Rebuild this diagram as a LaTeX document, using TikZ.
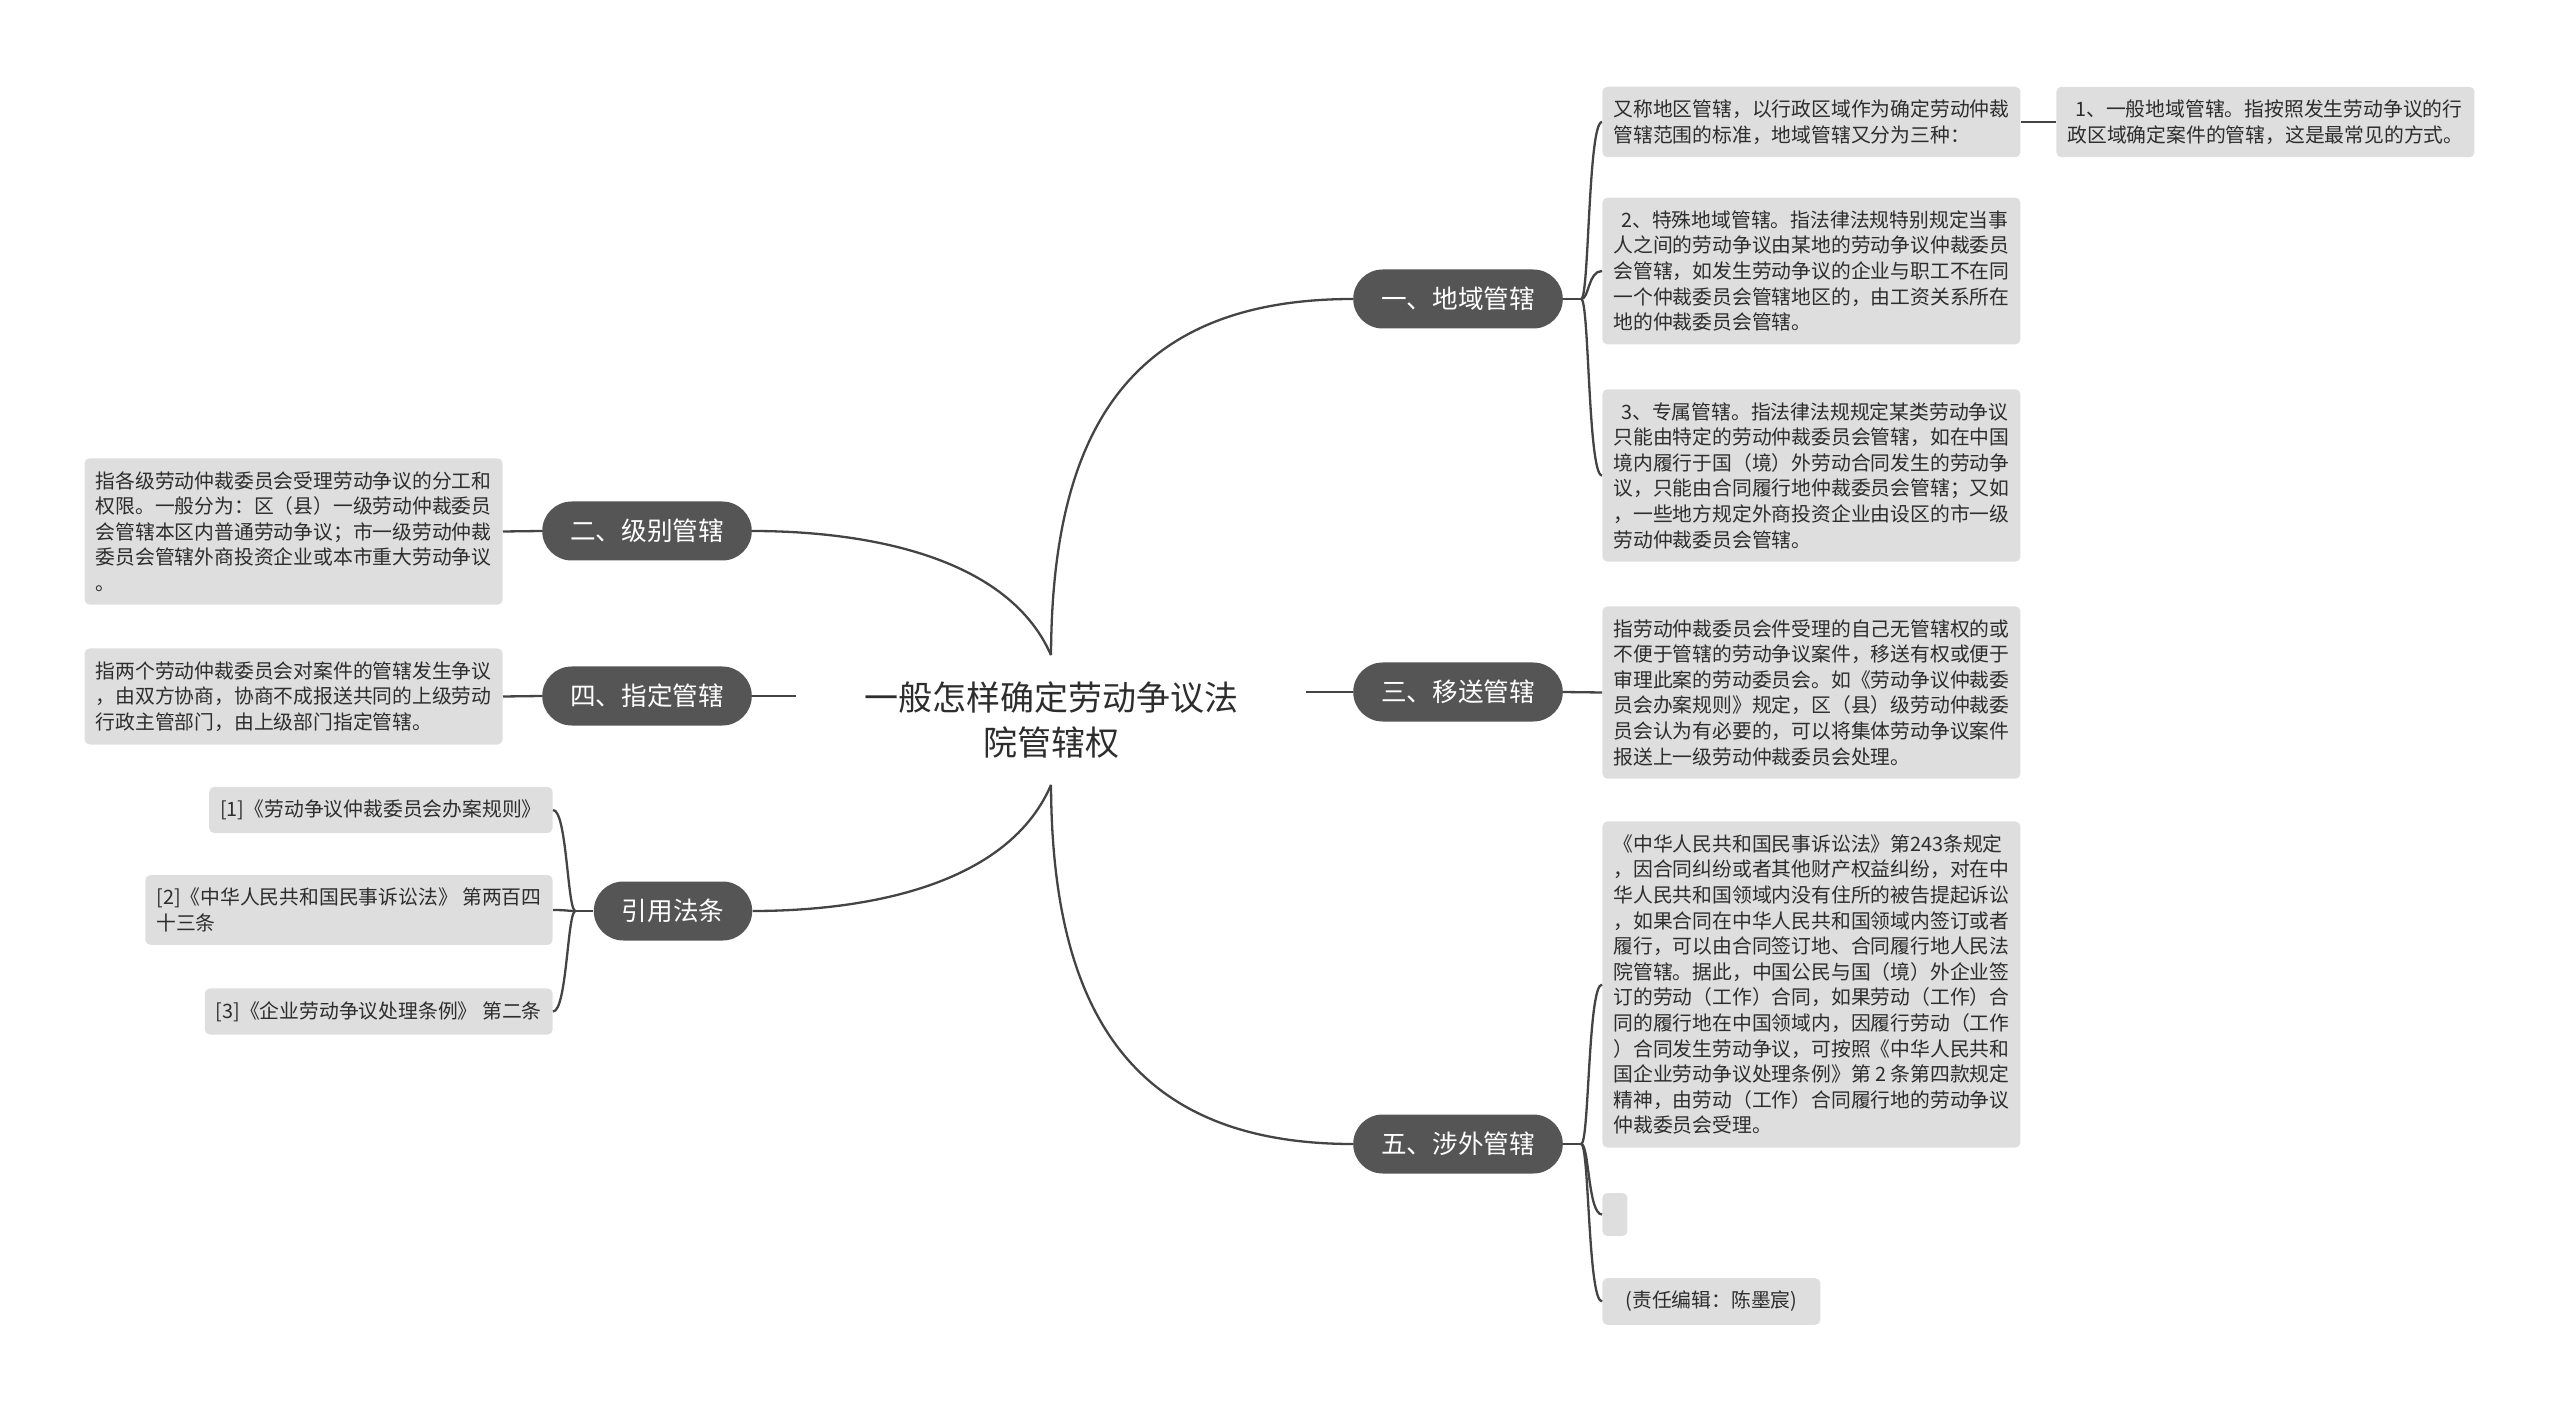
\documentclass[tikz,border=0pt]{standalone}
\usepackage{fontspec}
\setmainfont{Noto Sans CJK SC}
\usepackage{tikz}
\usetikzlibrary{positioning}
\definecolor{mapdark}{RGB}{85, 85, 85}
\definecolor{mapleaf}{RGB}{222, 222, 222}
\definecolor{mapline}{RGB}{68, 68, 68}
\definecolor{maptext}{RGB}{45, 45, 45}

\begin{document}
\begin{tikzpicture}[x=0.5pt,y=-0.5pt,
    topic/.style={fill=mapdark, text=white, font=\fontsize{12.8pt}{15pt}\selectfont,
        rounded corners=14.75pt, minimum height=29.5pt, inner xsep=14pt, inner ysep=0pt},
    leaf/.style={fill=mapleaf, text=maptext, font=\fontsize{9.9pt}{12.8pt}\selectfont,
        rounded corners=2.5pt, align=left, inner xsep=5.5pt, inner ysep=6.5pt},
    link/.style={draw=mapline, line width=1.15pt}]
    \useasboundingbox (0,0) rectangle (2560,1411);

    % centre
    \node[text=maptext, font=\fontsize{17pt}{22.9pt}\selectfont, align=center,
        minimum width=254.5pt, minimum height=64.5pt] (root) at (1051,720)
        {一般怎样确定劳动争议法\\院管辖权};

    % main topics
    \node[topic] (dy) at (1458,299) {一、地域管辖};
    \node[topic] (ys) at (1458,692) {三、移送管辖};
    \node[topic] (sw) at (1458,1144) {五、涉外管辖};
    \node[topic] (jb) at (647,531) {二、级别管辖};
    \node[topic] (zd) at (647,696) {四、指定管辖};
    \node[topic] (yy) at (673,911) {引用法条};

    % right leaves
    \node[leaf, anchor=west, minimum width=209pt] (dya) at (1602,122)
        {又称地区管辖，以行政区域作为确定劳动仲裁\\管辖范围的标准，地域管辖又分为三种：};
    \node[leaf, anchor=west, minimum width=209pt] (dya1) at (2056,122)
        {\hspace{0.4em}1、一般地域管辖。指按照发生劳动争议的行\\政区域确定案件的管辖，这是最常见的方式。};
    \node[leaf, anchor=west, minimum width=209pt] (dyb) at (1602,271)
        {\hspace{0.4em}2、特殊地域管辖。指法律法规特别规定当事\\人之间的劳动争议由某地的劳动争议仲裁委员\\会管辖，如发生劳动争议的企业与职工不在同\\一个仲裁委员会管辖地区的，由工资关系所在\\地的仲裁委员会管辖。};
    \node[leaf, anchor=west, minimum width=209pt] (dyc) at (1602,475.5)
        {\hspace{0.4em}3、专属管辖。指法律法规规定某类劳动争议\\只能由特定的劳动仲裁委员会管辖，如在中国\\境内履行于国（境）外劳动合同发生的劳动争\\议，只能由合同履行地仲裁委员会管辖；又如\\，一些地方规定外商投资企业由设区的市一级\\劳动仲裁委员会管辖。};
    \node[leaf, anchor=west, minimum width=209pt] (ysa) at (1602,692.5)
        {指劳动仲裁委员会件受理的自己无管辖权的或\\不便于管辖的劳动争议案件，移送有权或便于\\审理此案的劳动委员会。如《劳动争议仲裁委\\员会办案规则》规定，区（县）级劳动仲裁委\\员会认为有必要的，可以将集体劳动争议案件\\报送上一级劳动仲裁委员会处理。};
    \node[leaf, anchor=west, minimum width=209pt] (swa) at (1602,984.5)
        {《中华人民共和国民事诉讼法》第243条规定\\，因合同纠纷或者其他财产权益纠纷，对在中\\华人民共和国领域内没有住所的被告提起诉讼\\，如果合同在中华人民共和国领域内签订或者\\履行，可以由合同签订地、合同履行地人民法\\院管辖。据此，中国公民与国（境）外企业签\\订的劳动（工作）合同，如果劳动（工作）合\\同的履行地在中国领域内，因履行劳动（工作\\）合同发生劳动争议，可按照《中华人民共和\\国企业劳动争议处理条例》第~2~条第四款规定\\精神，由劳动（工作）合同履行地的劳动争议\\仲裁委员会受理。};
    \node[leaf, anchor=west, minimum width=12.5pt, minimum height=21.5pt] (swb) at (1602,1214.5) {};
    \node[leaf, anchor=west, minimum width=109pt] (swc) at (1602,1301.5) {(责任编辑：陈墨宸)};

    % left leaves
    \node[leaf, anchor=east, minimum width=209pt] (jba) at (503,531.5)
        {指各级劳动仲裁委员会受理劳动争议的分工和\\权限。一般分为：区（县）一级劳动仲裁委员\\会管辖本区内普通劳动争议；市一级劳动仲裁\\委员会管辖外商投资企业或本市重大劳动争议\\。};
    \node[leaf, anchor=east, minimum width=209pt] (zda) at (503,696.5)
        {指两个劳动仲裁委员会对案件的管辖发生争议\\，由双方协商，协商不成报送共同的上级劳动\\行政主管部门，由上级部门指定管辖。};
    \node[leaf, anchor=east] (yya) at (553,810) {[1]《劳动争议仲裁委员会办案规则》};
    \node[leaf, anchor=east] (yyb) at (553,910) {[2]《中华人民共和国民事诉讼法》 第两百四\\十三条};
    \node[leaf, anchor=east] (yyc) at (553,1011.5) {[3]《企业劳动争议处理条例》 第二条};

    % centre to topics
    \draw[link] (root.north) .. controls (1052,430) and (1130,299) .. (dy.west);
    \draw[link] (root.south) .. controls (1052,1009) and (1130,1144) .. (sw.west);
    \draw[link] (ys.west -| root.east) -- (ys.west);
    \draw[link] (root.north) .. controls (1005,550) and (850,531) .. (jb.east);
    \draw[link] (root.south) .. controls (1005,892) and (850,911) .. (yy.east);
    \draw[link] (zd.east) -- (zd.east -| root.west);

    % topics to leaves
    \draw[link] (dy.east) -- ++(18,0) coordinate (dys);
    \foreach \leafname in {dya,dyb,dyc}
        \draw[link] (dys) .. controls +(8,0) and +(-14,0) .. (\leafname.west);
    \draw[link] (dya.east) -- (dya1.west);
    \draw[link] (ys.east) -- (ysa.west);
    \draw[link] (sw.east) -- ++(18,0) coordinate (sws);
    \foreach \leafname in {swa,swb,swc}
        \draw[link] (sws) .. controls +(8,0) and +(-14,0) .. (\leafname.west);
    \draw[link] (jb.west) -- (jba.east);
    \draw[link] (zd.west) -- (zda.east);
    \draw[link] (yy.west) -- ++(-18,0) coordinate (yys);
    \foreach \leafname in {yya,yyb,yyc}
        \draw[link] (yys) .. controls +(-8,0) and +(14,0) .. (\leafname.east);
\end{tikzpicture}
\end{document}
